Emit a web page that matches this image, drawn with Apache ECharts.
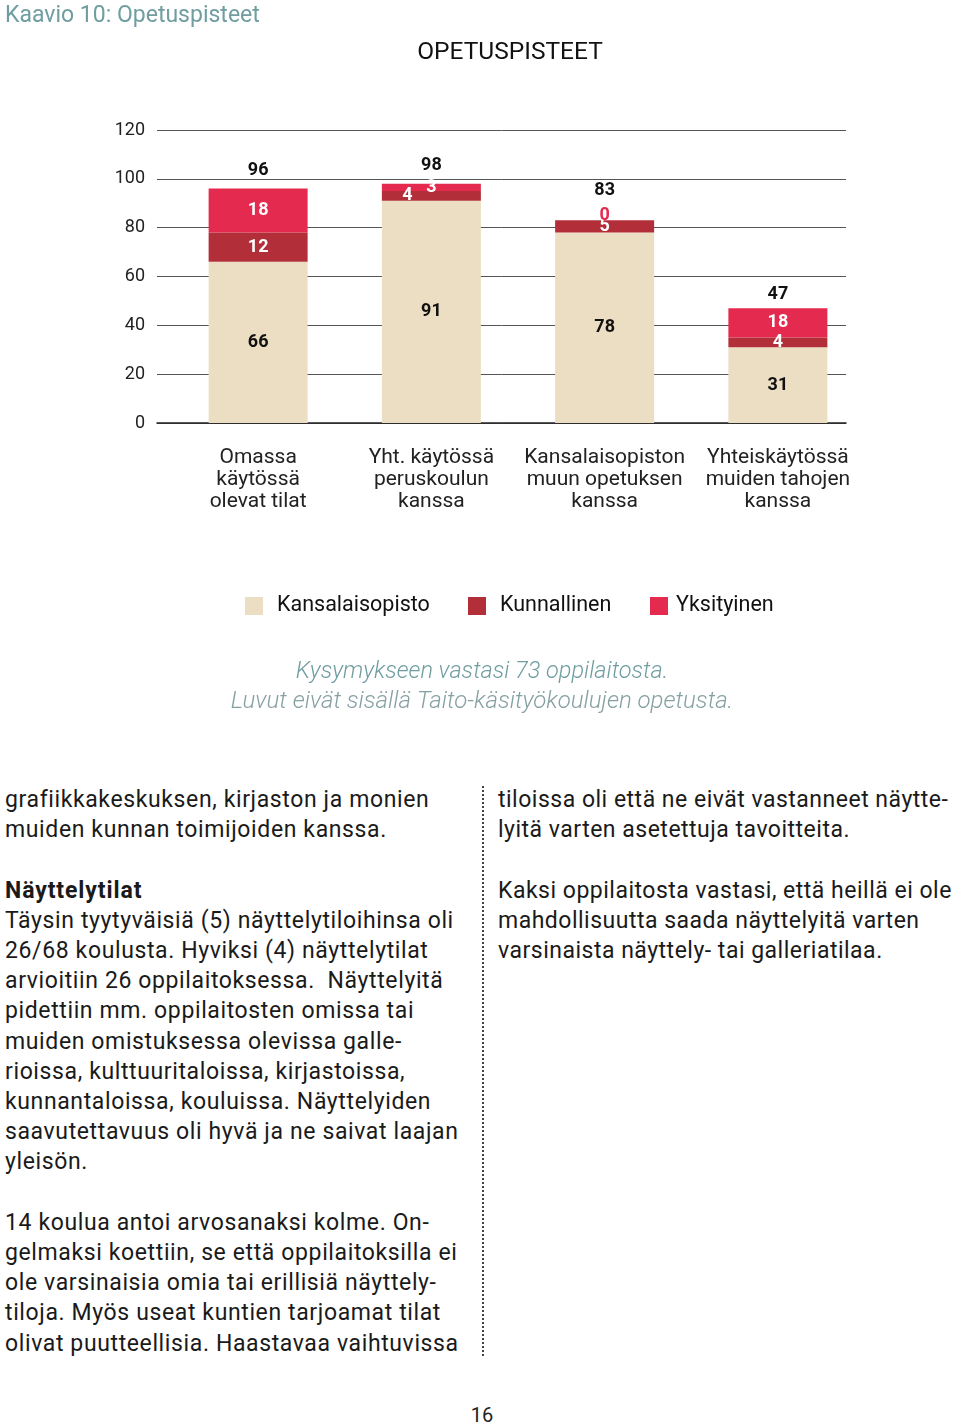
<!DOCTYPE html>
<html><head><meta charset="utf-8">
<script src="https://cdn.jsdelivr.net/npm/echarts@6/dist/echarts.min.js"></script>
<style>
html,body{margin:0;padding:0;background:#fff;}
#page{position:relative;width:960px;height:1428px;overflow:hidden;font-family:Roboto,"DejaVu Sans",sans-serif;}
#chart{position:absolute;left:0;top:0;width:960px;height:740px;}
.col{position:absolute;font-size:23px;line-height:30.2px;color:#1a1a1a;white-space:pre;}
#left{letter-spacing:0.62px;}
#right{letter-spacing:0.5px;}
.col b{font-weight:700;letter-spacing:0.9px;}
#sep{position:absolute;left:482px;top:786px;height:570px;border-left:2px dotted #444;}
#pg{position:absolute;left:0;width:964px;top:1403px;text-align:center;font-size:20px;color:#222;}
</style></head>
<body><div id="page">
<div id="chart"></div>
<div class="col" id="left" style="left:5px;top:785px;">grafiikkakeskuksen, kirjaston ja monien
muiden kunnan toimijoiden kanssa.

<b>Näyttelytilat</b>
Täysin tyytyväisiä (5) näyttelytiloihinsa oli
26/68 koulusta. Hyviksi (4) näyttelytilat
arvioitiin 26 oppilaitoksessa.  Näyttelyitä
pidettiin mm. oppilaitosten omissa tai
muiden omistuksessa olevissa galle-
rioissa, kulttuuritaloissa, kirjastoissa,
kunnantaloissa, kouluissa. Näyttelyiden
saavutettavuus oli hyvä ja ne saivat laajan
yleisön.

14 koulua antoi arvosanaksi kolme. On-
gelmaksi koettiin, se että oppilaitoksilla ei
ole varsinaisia omia tai erillisiä näyttely-
tiloja. Myös useat kuntien tarjoamat tilat
olivat puutteellisia. Haastavaa vaihtuvissa</div>
<div class="col" id="right" style="left:498px;top:785px;">tiloissa oli että ne eivät vastanneet näytte-
lyitä varten asetettuja tavoitteita.

Kaksi oppilaitosta vastasi, että heillä ei ole
mahdollisuutta saada näyttelyitä varten
varsinaista näyttely- tai galleriatilaa.</div>
<div id="sep"></div>
<div id="pg">16</div>
</div>
<script>
// ---- data ----
const categories = ['Omassa\nkäytössä\nolevat tilat', 'Yht. käytössä\nperuskoulun\nkanssa', 'Kansalaisopiston\nmuun opetuksen\nkanssa', 'Yhteiskäytössä\nmuiden tahojen\nkanssa'];
const seriesNames = ['Kansalaisopisto', 'Kunnallinen', 'Yksityinen'];
const kansalaisopisto = [66, 91, 78, 31];
const kunnallinen = [12, 4, 5, 4];
const yksityinen = [18, 3, 0, 12];           // drawn heights
const yksityinenPrinted = ['18', '3', '0', '18']; // labels as printed
const totals = [96, 98, 83, 47];
const yTicks = [0, 20, 40, 60, 80, 100, 120];

const FONT = 'Roboto, "DejaVu Sans", sans-serif';
const C_BEIGE = '#ecdec2', C_DARK = '#b22f39', C_PINK = '#e42a4e';
const chart = echarts.init(document.getElementById('chart'), null, {renderer: 'canvas'});

const gridTop = 130, gridBottomPx = 423;
const labelBase = {fontFamily: FONT, fontWeight: 'bold', fontSize: 18};

const darkData = kunnallinen.map((v, i) => i === 1 ? {value: v, label: {offset: [-24, 0]}} : v);
const pinkData = yksityinen.map((v, i) => i === 2 ? {value: v, label: {color: C_PINK, offset: [0, -5]}} : v);
const totalData = totals.map((v, i) => i === 2 ? {value: v, label: {distance: 21}} : (i === 3 ? {value: v, label: {distance: 5}} : v));

const legendText = {fontSize: 21.5, color: '#111', fontFamily: FONT, padding: [0, 0, 0, 9]};
chart.setOption({
  animation: false,
  textStyle: {fontFamily: FONT},
  graphic: [
    {type: 'text', left: 5, top: 5, style: {text: 'Kaavio 10: Opetuspisteet', font: '23px ' + FONT, fill: '#6f9da0'}},
    {type: 'text', x: 510, y: 53, style: {text: 'OPETUSPISTEET', font: '24.5px ' + FONT, fill: '#111', align: 'center', verticalAlign: 'middle'}},
    {type: 'text', x: 482, y: 672, style: {text: 'Kysymykseen vastasi 73 oppilaitosta.', font: 'italic 300 23.5px ' + FONT, fill: '#6f9da0', align: 'center', verticalAlign: 'middle'}},
    {type: 'text', x: 482, y: 702, style: {text: 'Luvut eivät sisällä Taito-käsityökoulujen opetusta.', font: 'italic 300 24px ' + FONT, fill: '#86a0a2', align: 'center', verticalAlign: 'middle'}}
  ],
  legend: [
    {left: 245, top: 595, padding: 0, icon: 'rect', itemWidth: 18, itemHeight: 18, itemGap: 0, data: [seriesNames[0]], textStyle: legendText},
    {left: 468, top: 595, padding: 0, icon: 'rect', itemWidth: 18, itemHeight: 18, itemGap: 0, data: [seriesNames[1]], textStyle: legendText},
    {left: 650, top: 595, padding: 0, icon: 'rect', itemWidth: 18, itemHeight: 18, itemGap: 0, data: [seriesNames[2]], textStyle: Object.assign({}, legendText, {padding: [0, 0, 0, 3]})}
  ],
  grid: [
    {left: 171.5, width: 693, top: gridTop, height: gridBottomPx - gridTop, containLabel: false},
    {left: 157, width: 689, top: gridTop, height: gridBottomPx - gridTop, containLabel: false}
  ],
  xAxis: [
    {type: 'category', gridIndex: 0, data: categories, axisLine: {show: false}, axisTick: {show: false},
     axisLabel: {margin: 24, fontSize: 21, lineHeight: 22, color: '#222', fontFamily: FONT, interval: 0}},
    {type: 'value', gridIndex: 1, min: 0, max: 1, show: true, axisLabel: {show: false}, axisTick: {show: false}, splitLine: {show: false},
     axisLine: {show: true, onZero: false, lineStyle: {color: '#222', width: 1.5}}}
  ],
  yAxis: [
    {type: 'value', gridIndex: 0, min: 0, max: 120, interval: 20, show: false},
    {type: 'value', gridIndex: 1, min: yTicks[0], max: yTicks[yTicks.length - 1], interval: 20,
     axisLine: {show: false}, axisTick: {show: false},
     axisLabel: {margin: 12, fontSize: 18, color: '#222', fontFamily: FONT},
     splitLine: {show: true, lineStyle: {color: '#555', width: 1}}}
  ],
  series: [
    {name: seriesNames[0], type: 'bar', stack: 's', barWidth: 99, xAxisIndex: 0, yAxisIndex: 0, data: kansalaisopisto,
     itemStyle: {color: C_BEIGE}, label: Object.assign({show: true, position: 'inside', color: '#111'}, labelBase), z: 3},
    {name: seriesNames[1], type: 'bar', stack: 's', barWidth: 99, xAxisIndex: 0, yAxisIndex: 0, data: darkData,
     itemStyle: {color: C_DARK}, label: Object.assign({show: true, position: 'inside', color: '#fff'}, labelBase), z: 3},
    {name: seriesNames[2], type: 'bar', stack: 's', barWidth: 99, xAxisIndex: 0, yAxisIndex: 0, data: pinkData,
     itemStyle: {color: C_PINK}, label: Object.assign({show: true, position: 'inside', color: '#fff', formatter: p => yksityinenPrinted[p.dataIndex]}, labelBase), z: 3},
    {name: 'totals', type: 'bar', barWidth: 99, barGap: '-100%', xAxisIndex: 0, yAxisIndex: 0, data: totalData,
     itemStyle: {color: 'rgba(0,0,0,0)'}, silent: true, z: 4,
     label: Object.assign({show: true, position: 'top', distance: 9, color: '#111'}, labelBase)}
  ]
});
</script>
</body></html>
